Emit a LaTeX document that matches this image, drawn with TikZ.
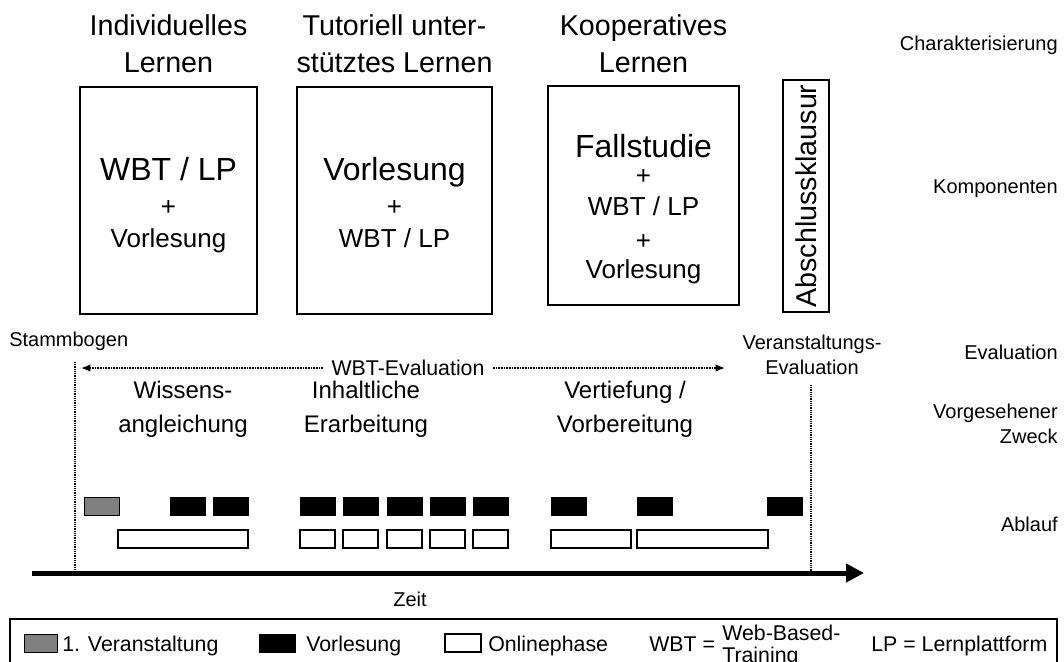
\documentclass[tikz,border=0pt]{standalone}
\usepackage{fontspec}
\setmainfont{Liberation Sans}
\usepackage{xcolor}
\usepackage{tikz}
\usetikzlibrary{arrows.meta,positioning}
\definecolor{evgray}{RGB}{128,128,128}
\newcommand{\titlefont}{\fontsize{21.5}{27.75}\selectfont}
\newcommand{\bigfont}{\fontsize{24}{28}\selectfont}
\newcommand{\midfont}{\fontsize{19.5}{24}\selectfont}
\newcommand{\phasefont}{\fontsize{18}{25.5}\selectfont}
\newcommand{\labelfont}{\fontsize{15}{18.5}\selectfont}
\newcommand{\legendfont}{\fontsize{16}{16.5}\selectfont}
\begin{document}
\begin{tikzpicture}[x=0.75pt,y=-0.75pt,>=Latex]
    \tikzset{block/.style={draw, rectangle, line width=0.8pt, inner sep=0pt},
      txt/.style={inner sep=0pt, align=center},
      lbl/.style={inner sep=0pt, align=right, anchor=east, font=\labelfont},
      vl/.style={draw, fill=black, line width=0.6pt, minimum width=26.25pt, minimum height=13.5pt, inner sep=0pt},
      ev/.style={vl, fill=evgray},
      onl/.style={draw, fill=white, line width=0.8pt, minimum height=13.5pt, inner sep=0pt},
      dotline/.style={line width=1pt, dash pattern=on 0.75pt off 0.6pt},
      legtxt/.style={inner sep=0pt, anchor=base west, font=\legendfont},
    }
    \useasboundingbox (0,0) rectangle (1064,661);

    % Charakterisierung und Komponenten
    \node[txt, font=\titlefont] at (168.5,43.5) (indivtitle) {Individuelles\\Lernen};
    \node[txt, font=\titlefont] at (394.5,43.5) (tutortitle) {Tutoriell unter-\\stütztes Lernen};
    \node[txt, font=\titlefont] at (643.5,43.5) (kooptitle) {Kooperatives\\Lernen};

    \node[block, minimum width=132.75pt, minimum height=170.25pt] at (168.5,200.5) (indiv) {};
    \node[block, minimum width=146.25pt, minimum height=170.25pt] at (394.5,200.5) (tutor) {};
    \node[block, minimum width=143.25pt, minimum height=164.25pt] at (643.5,195.5) (koop) {};
    \node[block, rotate=90, minimum width=174pt, minimum height=34.5pt, font=\titlefont] at (806,196) (klausur) {Abschlussklausur};

    \node[txt, font=\bigfont, anchor=base] at (168.5,180) (indivA) {WBT / LP};
    \node[txt, font=\midfont, anchor=base] at (168.5,215) (indivB) {+};
    \node[txt, font=\midfont, anchor=base] at (168.5,247) (indivC) {Vorlesung};

    \node[txt, font=\bigfont, anchor=base] at (394.5,180) (tutorA) {Vorlesung};
    \node[txt, font=\midfont, anchor=base] at (394.5,215) (tutorB) {+};
    \node[txt, font=\midfont, anchor=base] at (394.5,247) (tutorC) {WBT / LP};

    \node[txt, font=\bigfont, anchor=base] at (643.5,157) (koopA) {Fallstudie};
    \node[txt, font=\midfont, anchor=base] at (643.5,184) (koopB) {+};
    \node[txt, font=\midfont, anchor=base] at (643.5,215) (koopC) {WBT / LP};
    \node[txt, font=\midfont, anchor=base] at (643.5,249) (koopD) {+};
    \node[txt, font=\midfont, anchor=base] at (643.5,278) (koopE) {Vorlesung};

    % Evaluation
    \node[inner sep=0pt, anchor=west, font=\labelfont] at (9,341) (stamm) {Stammbogen};
    \node[txt, font=\labelfont] at (812,355) (vaeval) {Veranstaltungs-\\Evaluation};
    \node[inner sep=0pt, inner xsep=6pt, font=\fontsize{16}{18}\selectfont] at (408,368) (wbt) {WBT-Evaluation};
    \coordinate (wbtL) at (81,368);
    \coordinate (wbtR) at (725,368);
    \draw[line width=1pt, dash pattern=on 0.75pt off 0.45pt, -{Latex[length=7pt,width=5.5pt]}] (wbt) -- (wbtL);
    \draw[line width=1pt, dash pattern=on 0.75pt off 0.45pt, -{Latex[length=7pt,width=5.5pt]}] (wbt) -- (wbtR);

    % Zweck
    \node[txt, font=\phasefont] at (183,409) (wissen) {Wissens-\\angleichung};
    \node[txt, font=\phasefont] at (366,409) (inhalt) {Inhaltliche\\Erarbeitung};
    \node[txt, font=\phasefont] at (625,409) (vertief) {Vertiefung /\\Vorbereitung};

    % Ablauf
    \node[ev] at (101.5,506) (ev1) {};
    \node[vl] at (187.5,506) (vl1) {};
    \node[vl] at (230.5,506) (vl2) {};
    \node[vl] at (317.5,506) (vl3) {};
    \node[vl] at (360.5,506) (vl4) {};
    \node[vl] at (404.5,506) (vl5) {};
    \node[vl] at (447.5,506) (vl6) {};
    \node[vl] at (490.5,506) (vl7) {};
    \node[vl] at (568.5,506) (vl8) {};
    \node[vl] at (654.5,506) (vl9) {};
    \node[vl] at (785,506) (vl10) {};

    \node[onl, minimum width=97.5pt] at (183,539) (on1) {};
    \node[onl, minimum width=26.25pt] at (317.5,539) (on2) {};
    \node[onl, minimum width=26.25pt] at (360.5,539) (on3) {};
    \node[onl, minimum width=26.25pt] at (404.5,539) (on4) {};
    \node[onl, minimum width=26.25pt] at (447.5,539) (on5) {};
    \node[onl, minimum width=26.25pt] at (490.5,539) (on6) {};
    \node[onl, minimum width=60pt] at (591,539) (on7) {};
    \node[onl, minimum width=98.25pt] at (702.5,539) (on8) {};

    \coordinate (startT) at (75,362);
    \coordinate (startB) at (75,573);
    \coordinate (endT) at (811,385);
    \coordinate (endB) at (811,573);
    \draw[dotline] (startT) -- (startB);
    \draw[dotline] (endT) -- (endB);

    \coordinate (axL) at (32,573);
    \coordinate (axR) at (864,573);
    \draw[line width=3.75pt, -{Triangle[length=13.5pt,width=13.5pt]}] (axL) -- (axR);
    \node[inner sep=0pt, font=\labelfont] at (410,599) (zeit) {Zeit};

    % rechte Spalte
    \node[lbl] at (1058,45) (charak) {Charakterisierung};
    \node[lbl] at (1058,189) (kompo) {Komponenten};
    \node[lbl] at (1058,352) (evalu) {Evaluation};
    \node[lbl] at (1058,424) (zweck) {Vorgesehener\\Zweck};
    \node[lbl] at (1058,524) (ablauf) {Ablauf};

    % Legende
    \coordinate (legBL) at (10,680);
    \coordinate (legTR) at (1057,619);
    \coordinate (legBR) at (1057,680);
    \draw[line width=1pt] (legBL) |- (legTR) -- (legBR);
    \node[ev, minimum width=24.75pt] at (40.5,643) (legev) {};
    \node[legtxt] at (62,651) (legevtxt) {1. Veranstaltung};
    \node[vl, minimum width=27pt] at (277,643) (legvl) {};
    \node[legtxt] at (306,651) (legvltxt) {Vorlesung};
    \node[onl, minimum width=27pt] at (463,643) (legon) {};
    \node[legtxt] at (488,651) (legontxt) {Onlinephase};
    \node[legtxt] at (649,651) (legwbt) {WBT =};
    \node[inner sep=0pt, anchor=north west, align=left, font=\legendfont] at (722,625) (legwbttxt) {Web-Based-\\Training};
    \node[legtxt] at (871,651) (leglp) {LP = Lernplattform};
  \end{tikzpicture}
\end{document}
